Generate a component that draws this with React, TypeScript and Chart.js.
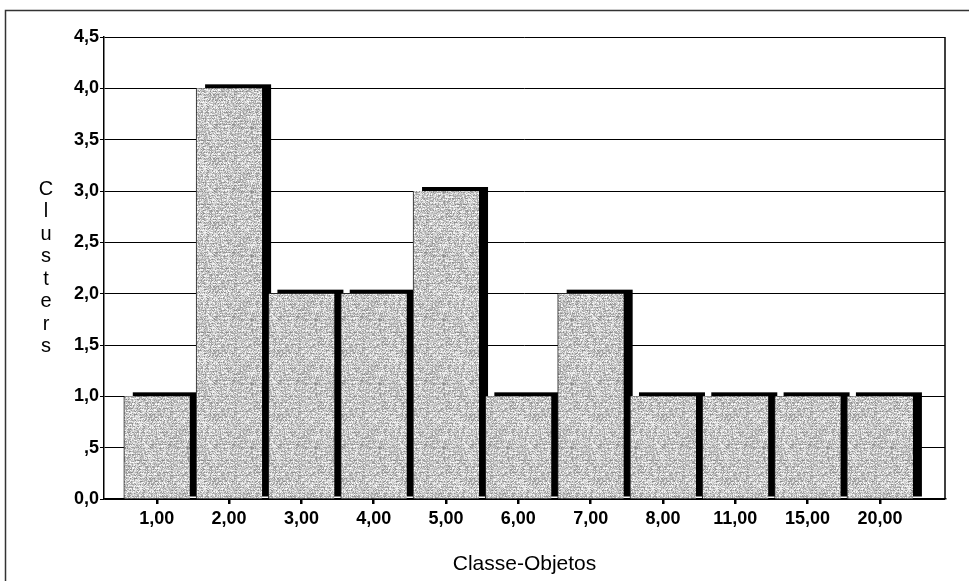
import React, { useEffect, useRef } from "react";
import { Chart, registerables } from "chart.js";

Chart.register(...registerables);

// Number of clusters per object class
const categories = ["1,00", "2,00", "3,00", "4,00", "5,00", "6,00", "7,00", "8,00", "11,00", "15,00", "20,00"];
const clusters = [1, 4, 2, 2, 3, 1, 2, 1, 1, 1, 1];

const yAxisTitle = "Clusters";
const xAxisTitle = "Classe-Objetos";

const FONT = "'Liberation Sans', Arial, sans-serif";

// Comma decimal labels, with the leading zero dropped below one (",5")
function formatTick(v: number): string {
  const s = v.toFixed(1).replace(".", ",");
  if (v > 0 && v < 1) return s.slice(1);
  return s;
}

// Fine grey stipple used to fill the bars
function makeStipple(): CanvasPattern | string {
  const c = document.createElement("canvas");
  c.width = 64;
  c.height = 64;
  const ctx = c.getContext("2d");
  if (!ctx) return "#c4c4c4";
  const img = ctx.createImageData(64, 64);
  let seed = 12345;
  const next = () => {
    seed = (seed * 1103515245 + 12345) & 0x7fffffff;
    return seed / 0x7fffffff;
  };
  for (let yy = 0; yy < 64; yy++) {
    const rowShift = yy % 3 === 0 ? -18 : 6;
    for (let xx = 0; xx < 64; xx++) {
      const v = Math.max(0, Math.min(255, Math.round(150 + next() * 100 + rowShift)));
      const i = (yy * 64 + xx) * 4;
      img.data[i] = v;
      img.data[i + 1] = v;
      img.data[i + 2] = v;
      img.data[i + 3] = 255;
    }
  }
  ctx.putImageData(img, 0, 0);
  return ctx.createPattern(c, "repeat") || "#c4c4c4";
}

// Black drop shadow behind each bar, offset right and up
const barShadow = {
  id: "barShadow",
  beforeDatasetsDraw(chart: any) {
    const ctx = chart.ctx;
    const meta = chart.getDatasetMeta(0);
    ctx.save();
    ctx.fillStyle = "#000";
    meta.data.forEach((el: any) => {
      const { x, y, base, width } = el.getProps(["x", "y", "base", "width"], true);
      const left = x - width / 2 + 9;
      const top = y - 4;
      ctx.fillRect(left, top, width, base - 2 - top);
    });
    ctx.restore();
  },
};

// Outer frame, right plot edge and the stacked y-axis title
const decorations = {
  id: "decorations",
  afterDraw(chart: any) {
    const ctx = chart.ctx;
    const { top, bottom, right } = chart.chartArea;
    ctx.save();
    ctx.strokeStyle = "#000";
    ctx.lineWidth = 1.5;
    ctx.beginPath();
    ctx.moveTo(right, top);
    ctx.lineTo(right, bottom);
    ctx.stroke();

    ctx.strokeStyle = "#333";
    ctx.lineWidth = 1.5;
    ctx.beginPath();
    ctx.moveTo(5.5, chart.height);
    ctx.lineTo(5.5, 10.5);
    ctx.lineTo(chart.width, 10.5);
    ctx.stroke();

    ctx.fillStyle = "#000";
    ctx.font = `20px ${FONT}`;
    ctx.textAlign = "center";
    ctx.textBaseline = "middle";
    const letters = yAxisTitle.split("");
    const step = 22.5;
    const mid = (top + bottom) / 2;
    letters.forEach((ch, i) => {
      ctx.fillText(ch, 46, mid + (i - (letters.length - 1) / 2) * step);
    });
    ctx.restore();
  },
};

export default function App() {
  const ref = useRef<HTMLCanvasElement | null>(null);

  useEffect(() => {
    document.body.style.margin = "0";
    const canvas = ref.current;
    if (!canvas) return;
    const fill = makeStipple();

    const chart = new Chart(canvas, {
      type: "bar",
      data: {
        datasets: [
          {
            data: clusters.map((v, i) => ({ x: i, y: v })),
            backgroundColor: fill as any,
            borderColor: "#222",
            borderWidth: { left: 1, top: 0, right: 0, bottom: 0 },
            borderSkipped: false,
            barThickness: 66,
          },
        ],
      },
      options: {
        responsive: false,
        animation: false,
        events: [],
        layout: { padding: { top: 37, right: 24, bottom: 0, left: 0 } },
        plugins: {
          legend: { display: false },
          tooltip: { enabled: false },
        },
        scales: {
          x: {
            type: "linear",
            offset: false,
            min: -0.73,
            max: 10.9,
            afterBuildTicks(scale: any) {
              scale.ticks = categories.map((_, i) => ({ value: i }));
            },
            afterFit(scale: any) {
              scale.height = 82;
            },
            ticks: {
              autoSkip: false,
              maxRotation: 0,
              padding: 4,
              color: "#000",
              font: { family: FONT, size: 18, weight: "bold" },
              callback: (v: any) => categories[Number(v)] ?? "",
            },
            grid: {
              display: true,
              offset: false,
              drawOnChartArea: false,
              drawTicks: true,
              tickLength: 5,
              color: "#000",
              lineWidth: 2.5,
            },
            border: { display: true, color: "#000", width: 1.5 },
            title: {
              display: true,
              text: xAxisTitle,
              color: "#000",
              font: { family: FONT, size: 21 },
              padding: { top: 0, bottom: 4 },
            },
          },
          y: {
            min: 0,
            max: 4.5,
            afterBuildTicks(scale: any) {
              const t = [];
              for (let k = 0; k <= 9; k++) t.push({ value: k * 0.5 });
              scale.ticks = t;
            },
            afterFit(scale: any) {
              scale.width = 104;
            },
            ticks: {
              padding: 1,
              color: "#000",
              font: { family: FONT, size: 18, weight: "bold" },
              callback: (v: any) => formatTick(Number(v)),
            },
            grid: {
              color: "#000",
              lineWidth: 1,
              tickLength: 4,
            },
            border: { display: true, color: "#000", width: 1.5 },
          },
        },
      },
      plugins: [barShadow, decorations],
    });

    return () => chart.destroy();
  }, []);

  return <canvas ref={ref} width={969} height={581} style={{ display: "block" }} />;
}
